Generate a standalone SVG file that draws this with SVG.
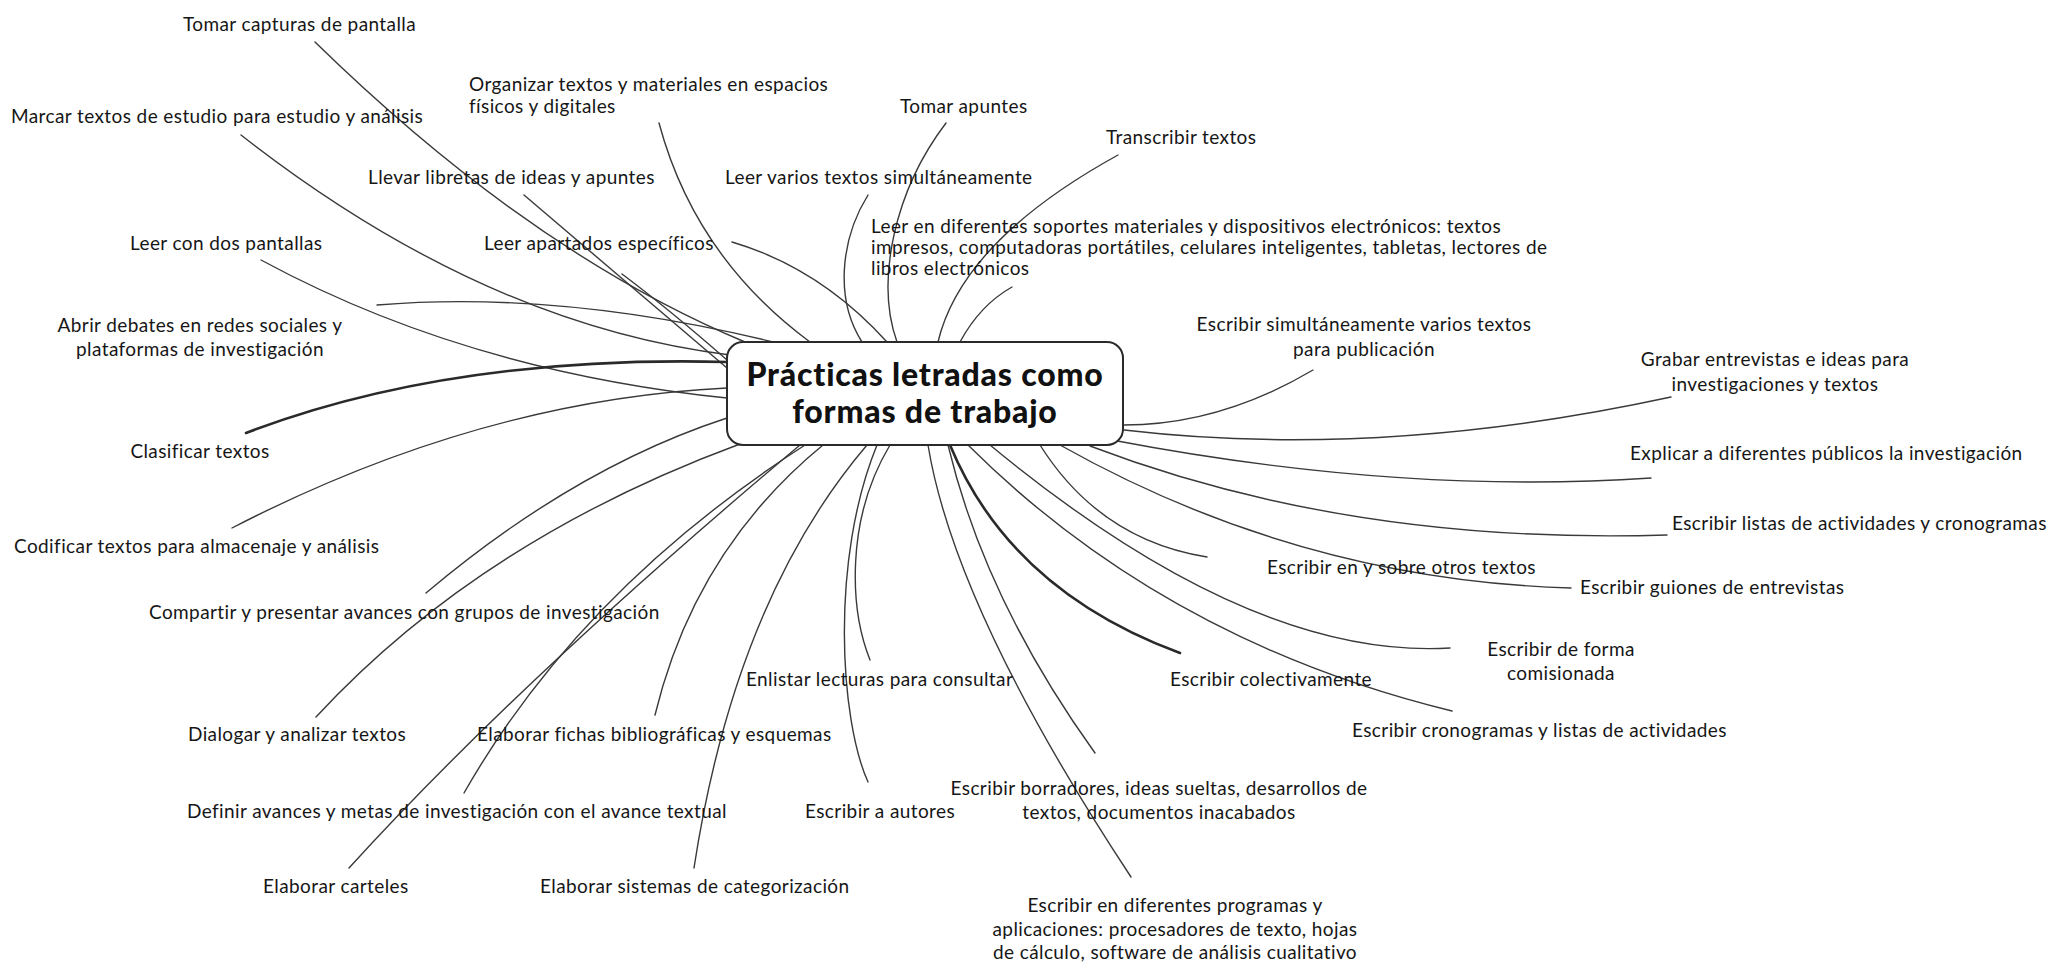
<svg xmlns="http://www.w3.org/2000/svg" width="2049" height="964" viewBox="0 0 2049 964">
<style>
.bg{fill:#ffffff}
.c{fill:none;stroke:#3a3a3a;stroke-width:1.4;stroke-linecap:round}
.ct{fill:none;stroke:#2a2a2a;stroke-width:2.6;stroke-linecap:round}
.t{font-family:Lato,"Liberation Sans",sans-serif;font-size:19px;letter-spacing:0.4px;fill:#161616}
.m{text-anchor:middle}
.box{fill:#ffffff;stroke:#2a2a2a;stroke-width:2}
.title{font-family:Lato,"Liberation Sans",sans-serif;font-size:32px;font-weight:900;letter-spacing:0.8px;fill:#111;text-anchor:middle}
</style>
<rect class="bg" x="0" y="0" width="2049" height="964"/>
<g id="connectors">
<path class="c" d="M315 42 Q530 252 745 342"/>
<path class="c" d="M241 135 Q484 325 730 355"/>
<path class="c" d="M659 123 Q695 257 810 342"/>
<path class="c" d="M946 123 C895 190 875 280 897 342"/>
<path class="c" d="M868 195 C840 240 835 300 862 342"/>
<path class="c" d="M1118 155 Q962 241 938 342"/>
<path class="c" d="M1012 287 Q980 305 960 342"/>
<path class="c" d="M732 242 Q820 268 887 342"/>
<path class="c" d="M622 274 Q670 310 727 360"/>
<path class="c" d="M524 195 Q630 285 727 368"/>
<path class="c" d="M261 260 Q466 371 727 398"/>
<path class="c" d="M377 305 Q560 290 773 342"/>
<path class="ct" d="M246 433 Q450 355 727 362"/>
<path class="c" d="M232 528 Q480 400 727 388"/>
<path class="c" d="M426 593 Q574 468 727 418"/>
<path class="c" d="M316 717 Q480 540 740 444"/>
<path class="c" d="M349 868 Q520 680 800 445"/>
<path class="c" d="M464 793 Q580 590 805 445"/>
<path class="c" d="M655 715 Q695 550 823 445"/>
<path class="c" d="M694 868 Q735 600 867 445"/>
<path class="c" d="M868 782 C840 720 830 560 877 445"/>
<path class="c" d="M870 660 C850 610 845 520 890 445"/>
<path class="c" d="M1131 877 Q955 610 928 445"/>
<path class="c" d="M1095 753 Q985 600 948 445"/>
<path class="ct" d="M1180 653 Q1010 590 950 445"/>
<path class="c" d="M1452 711 Q1165 641 968 445"/>
<path class="c" d="M1450 648 Q1250 660 990 445"/>
<path class="c" d="M1207 557 Q1100 540 1040 445"/>
<path class="c" d="M1571 588 Q1300 580 1060 445"/>
<path class="c" d="M1667 535 Q1350 545 1090 446"/>
<path class="c" d="M1651 478 Q1400 495 1112 440"/>
<path class="c" d="M1671 397 Q1380 460 1124 430"/>
<path class="c" d="M1313 370 Q1220 425 1124 425"/>
</g>
<g id="center">
<rect class="box" x="727" y="342" width="396" height="103" rx="16" ry="16"/>
<text class="title" x="925" y="386">Prácticas letradas como</text>
<text class="title" x="925" y="423">formas de trabajo</text>
</g>
<g id="n1"><text class="t" x="183" y="31">Tomar capturas de pantalla</text></g>
<g id="n2"><text class="t" x="469" y="91">Organizar textos y materiales en espacios</text><text class="t" x="469" y="113">físicos y digitales</text></g>
<g id="n3"><text class="t" x="900" y="113">Tomar apuntes</text></g>
<g id="n4"><text class="t" x="11" y="123">Marcar textos de estudio para estudio y análisis</text></g>
<g id="n5"><text class="t" x="1106" y="144">Transcribir textos</text></g>
<g id="n6"><text class="t" x="368" y="184">Llevar libretas de ideas y apuntes</text></g>
<g id="n7"><text class="t" x="725" y="184">Leer varios textos simultáneamente</text></g>
<g id="n8"><text class="t" x="130" y="250">Leer con dos pantallas</text></g>
<g id="n9"><text class="t" x="484" y="250">Leer apartados específicos</text></g>
<g id="n10"><text class="t" x="871" y="233">Leer en diferentes soportes materiales y dispositivos electrónicos: textos</text><text class="t" x="871" y="254">impresos, computadoras portátiles, celulares inteligentes, tabletas, lectores de</text><text class="t" x="871" y="275">libros electrónicos</text></g>
<g id="n11"><text class="t m" x="200" y="332">Abrir debates en redes sociales y</text><text class="t m" x="200" y="356">plataformas de investigación</text></g>
<g id="n12"><text class="t m" x="1364" y="331">Escribir simultáneamente varios textos</text><text class="t m" x="1364" y="356">para publicación</text></g>
<g id="n13"><text class="t m" x="1775" y="366">Grabar entrevistas e ideas para</text><text class="t m" x="1775" y="391">investigaciones y textos</text></g>
<g id="n14"><text class="t m" x="200" y="458">Clasificar textos</text></g>
<g id="n15"><text class="t" x="1630" y="460">Explicar a diferentes públicos la investigación</text></g>
<g id="n16"><text class="t" x="1672" y="530">Escribir listas de actividades y cronogramas</text></g>
<g id="n17"><text class="t" x="14" y="553">Codificar textos para almacenaje y análisis</text></g>
<g id="n18"><text class="t" x="1267" y="574">Escribir en y sobre otros textos</text></g>
<g id="n19"><text class="t" x="1580" y="594">Escribir guiones de entrevistas</text></g>
<g id="n20"><text class="t" x="149" y="619">Compartir y presentar avances con grupos de investigación</text></g>
<g id="n21"><text class="t m" x="1561" y="656">Escribir de forma</text><text class="t m" x="1561" y="680">comisionada</text></g>
<g id="n22"><text class="t" x="746" y="686">Enlistar lecturas para consultar</text></g>
<g id="n23"><text class="t" x="1170" y="686">Escribir colectivamente</text></g>
<g id="n24"><text class="t" x="1352" y="737">Escribir cronogramas y listas de actividades</text></g>
<g id="n25"><text class="t" x="188" y="741">Dialogar y analizar textos</text></g>
<g id="n26"><text class="t" x="477" y="741">Elaborar fichas bibliográficas y esquemas</text></g>
<g id="n27"><text class="t m" x="1159" y="795">Escribir borradores, ideas sueltas, desarrollos de</text><text class="t m" x="1159" y="819">textos, documentos inacabados</text></g>
<g id="n28"><text class="t" x="187" y="818">Definir avances y metas de investigación con el avance textual</text></g>
<g id="n29"><text class="t" x="805" y="818">Escribir a autores</text></g>
<g id="n30"><text class="t" x="263" y="893">Elaborar carteles</text></g>
<g id="n31"><text class="t" x="540" y="893">Elaborar sistemas de categorización</text></g>
<g id="n32"><text class="t m" x="1175" y="912">Escribir en diferentes programas y</text><text class="t m" x="1175" y="936">aplicaciones: procesadores de texto, hojas</text><text class="t m" x="1175" y="959">de cálculo, software de análisis cualitativo</text></g>
</svg>
